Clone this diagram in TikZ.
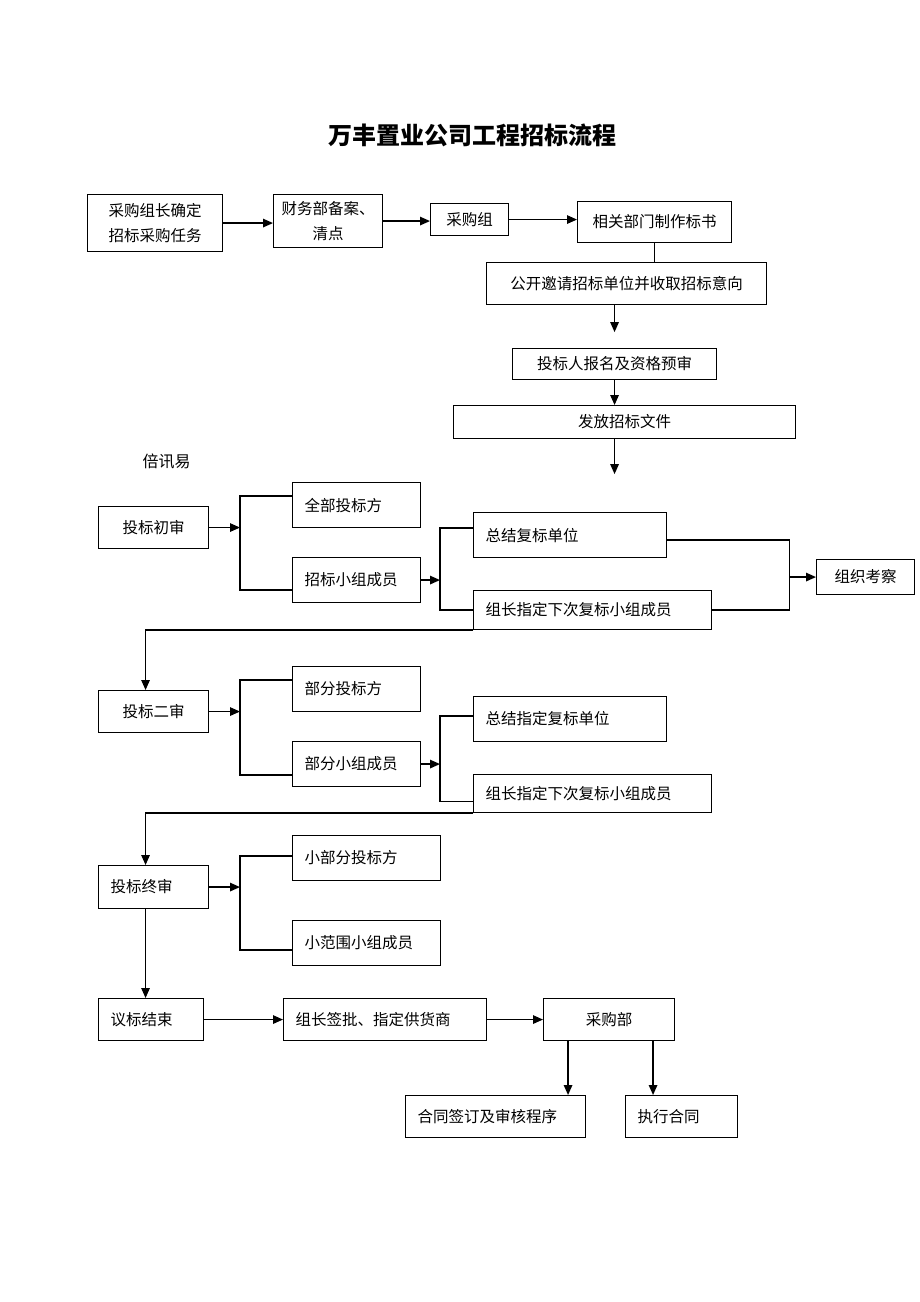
\documentclass[tikz,border=0pt]{standalone}
\usepackage{fontspec}
\newfontfamily\cjk{Noto Sans CJK SC}
\usetikzlibrary{arrows.meta}

\begin{document}
\begin{tikzpicture}[x=1pt,y=-1pt,
  box/.style={draw, line width=1.1pt, inner sep=0pt, anchor=north west, font=\cjk\fontsize{15.5pt}{25pt}\selectfont},
  lbox/.style={box, inner xsep=12pt, align=left},
  arr/.style={line width=1.4pt, -{Triangle[length=10pt,width=8.5pt]}},
  ln/.style={line width=1.2pt}]
\useasboundingbox (0,0) rectangle (920,1302);
\node[font=\cjk\bfseries\fontsize{24pt}{28pt}\selectfont] (title) at (472,135) {万丰置业公司工程招标流程};
% top row
\node[box, minimum width=135pt, minimum height=57pt, align=center] (a) at (87,194) {采购组长确定\\招标采购任务};
\node[box, minimum width=109pt, minimum height=53pt, align=center] (b) at (273,194) {财务部备案、\\清点};
\node[box, minimum width=78pt, minimum height=32pt] (c) at (430,203) {采购组};
\node[box, minimum width=154pt, minimum height=41pt] (d) at (577,201) {相关部门制作标书};
\node[box, minimum width=280pt, minimum height=42pt] (e) at (486,262) {公开邀请招标单位并收取招标意向};
\node[box, minimum width=204pt, minimum height=31pt] (f) at (512,348) {投标人报名及资格预审};
\node[box, minimum width=342pt, minimum height=33pt] (g) at (453,405) {发放招标文件};
\node[anchor=west, font=\cjk\fontsize{16pt}{20pt}\selectfont] (note) at (139,461) {倍讯易};
\coordinate (e2) at ([yshift=-27pt]e.south -| f.north);
\coordinate (g2) at ([yshift=-35pt]g.south -| f.south);
\draw[arr] (a.east) -- (a.east -| b.west);
\draw[arr] (b.east) -- (b.east -| c.west);
\draw[arr] (c.east) -- (c.east -| d.west);
\draw[ln] (d.south) -- (d.south |- e.north);
\draw[arr] (e.south -| f.north) -- (e2);
\draw[arr] (f.south) -- (f.south |- g.north);
\draw[arr] (g.south -| f.south) -- (g2);
% first review
\node[box, minimum width=110pt, minimum height=42pt] (s1) at (98,506) {投标初审};
\node[lbox, text width=104pt, minimum height=45pt] (q1) at (292,482) {全部投标方};
\node[lbox, text width=104pt, minimum height=45pt] (q2) at (292,557) {招标小组成员};
\node[lbox, text width=169pt, minimum height=45pt] (r1) at (473,512) {总结复标单位};
\node[lbox, text width=214pt, minimum height=39pt] (r2) at (473,590) {组长指定下次复标小组成员};
\node[box, minimum width=98pt, minimum height=35pt] (k1) at (816,559) {组织考察};
\draw[ln] ([yshift=9pt]q1.west) -- ++(-52,0) coordinate (b1) |- ([yshift=-10pt]q2.west);
\draw[arr] (s1.east) -- (s1.east -| b1);
\draw[ln] ([yshift=7pt]r1.west) -- ++(-33,0) coordinate (b2) |- (r2.west);
\draw[arr] (q2.east) -- (q2.east -| b2);
\draw[ln] ([yshift=-5pt]r1.east) -- ++(122,0) coordinate (b3) |- (r2.east);
\draw[arr] (b3 |- k1.west) -- (k1.west);
% second review
\node[box, minimum width=110pt, minimum height=42pt] (s2) at (98,690) {投标二审};
\node[lbox, text width=104pt, minimum height=45pt] (q3) at (292,666) {部分投标方};
\node[lbox, text width=104pt, minimum height=45pt] (q4) at (292,741) {部分小组成员};
\node[lbox, text width=169pt, minimum height=45pt] (r3) at (473,696) {总结指定复标单位};
\node[lbox, text width=214pt, minimum height=38pt] (r4) at (473,774) {组长指定下次复标小组成员};
\draw[arr] (r2.south west) -| ([xshift=-8pt]s2.north);
\draw[ln] ([yshift=9pt]q3.west) -- ++(-52,0) coordinate (b4) |- ([yshift=-11pt]q4.west);
\draw[arr] (s2.east) -- (s2.east -| b4);
\draw[ln] ([yshift=3pt]r3.west) -- ++(-33,0) coordinate (b5) |- ([yshift=-8pt]r4.west);
\draw[arr] (q4.east) -- (q4.east -| b5);
% final review
\node[lbox, text width=86pt, minimum height=43pt] (s3) at (98,865) {投标终审};
\node[lbox, text width=124pt, minimum height=45pt] (q5) at (292,835) {小部分投标方};
\node[lbox, text width=124pt, minimum height=45pt] (q6) at (292,920) {小范围小组成员};
\draw[arr] (r4.south west) -| ([xshift=-8pt]s3.north);
\draw[ln] ([yshift=2pt]q5.west) -- ++(-52,0) coordinate (b6) |- ([yshift=-7pt]q6.west);
\draw[arr] (s3.east) -- (s3.east -| b6);
% end
\node[lbox, text width=81pt, minimum height=42pt] (s4) at (98,998) {议标结束};
\node[lbox, text width=179pt, minimum height=42pt] (t1) at (283,998) {组长签批、指定供货商};
\node[box, minimum width=131pt, minimum height=42pt] (t2) at (543,998) {采购部};
\node[lbox, text width=156pt, minimum height=42pt] (u1) at (405,1095) {合同签订及审核程序};
\node[lbox, text width=88pt, minimum height=42pt] (u2) at (625,1095) {执行合同};
\draw[arr] ([xshift=-8pt]s3.south) -- ([xshift=-8pt]s3.south |- s4.north);
\draw[arr] (s4.east) -- (t1.west);
\draw[arr] (t1.east) -- (t2.west);
\draw[arr] ([xshift=-41pt]t2.south) -- ([xshift=-41pt]t2.south |- u1.north);
\draw[arr] ([xshift=44pt]t2.south) -- ([xshift=44pt]t2.south |- u2.north);
\end{tikzpicture}
\end{document}
